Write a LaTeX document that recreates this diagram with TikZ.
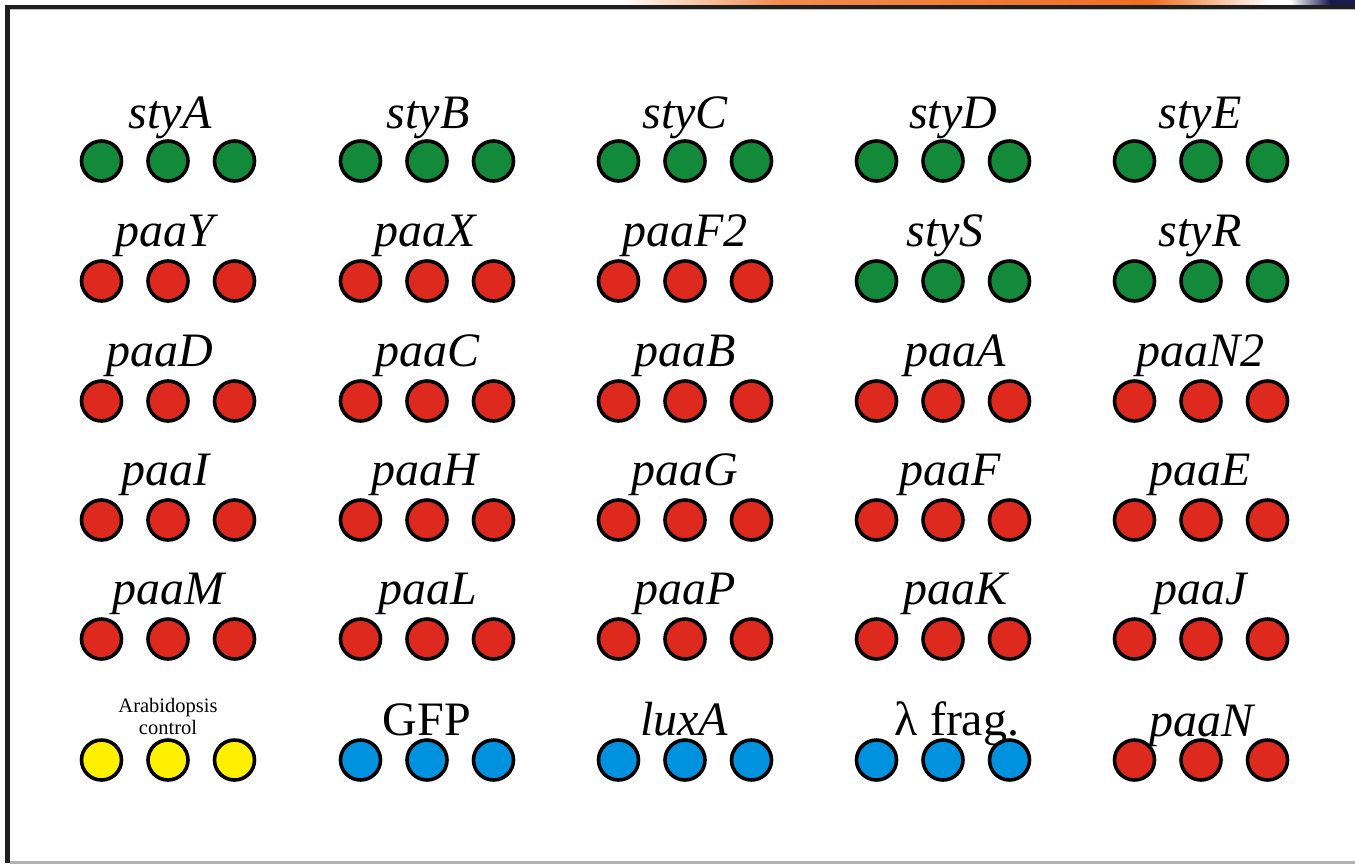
\documentclass[tikz,border=0pt]{standalone}
\usepackage{fontspec}
\setmainfont{Liberation Serif}

\definecolor{spotgreen}{RGB}{18,138,58}
\definecolor{spotred}{RGB}{222,42,30}
\definecolor{spotyellow}{RGB}{255,240,0}
\definecolor{spotblue}{RGB}{0,146,222}
\definecolor{barorange}{RGB}{238,110,32}
\definecolor{barnavy}{RGB}{26,26,80}

\tikzset{
  spot/.style={circle, draw=black, line width=3.6pt, minimum size=40pt, inner sep=0pt},
  genelabel/.style={anchor=base, inner sep=0pt, font=\fontsize{48}{56}\selectfont\itshape},
  plainlabel/.style={anchor=base, inner sep=0pt, font=\fontsize{48}{56}\selectfont\upshape},
  smalllabel/.style={anchor=base, inner sep=0pt, align=center,
                     font=\fontsize{20.5}{22}\selectfont\upshape},
}

% three replicate spots of one gene
% #1 name, #2 x of middle spot, #3 y, #4 fill colour
\newcommand\spottriple[4]{%
  \node[spot, fill=#4] (#1-1) at ({#2-66.5},#3) {};
  \node[spot, fill=#4] (#1-2) at (#2,#3) {};
  \node[spot, fill=#4] (#1-3) at ({#2+66.5},#3) {};
}

\begin{document}
\begin{tikzpicture}[x=1pt, y=-1pt]
\useasboundingbox (0,0) rectangle (1355,865);
\fill[white] (0,0) rectangle (1355,865);

% frame and header strip
\shade[left color=white, right color=barorange!80] (620,0) rectangle (780,4.5);
\shade[left color=barorange!80, right color=barorange] (780,0) rectangle (1150,4.5);
\shade[left color=barorange, right color=white] (1150,0) rectangle (1270,4.5);
\shade[left color=white, right color=barnavy] (1290,0) rectangle (1330,4.5);
\fill[barnavy] (1330,0) rectangle (1355,4.5);
\fill[black!88] (5,4.5) rectangle (1355,8.5);
\fill[black!25] (9.5,8.5) rectangle (1355,10);
\fill[black!88] (5,4.5) rectangle (9.5,863);
\fill[black!30] (9.5,861) rectangle (1355,864);

% row 1
\spottriple{styA}{168}{161}{spotgreen}
\spottriple{styB}{427}{161}{spotgreen}
\spottriple{styC}{685}{161}{spotgreen}
\spottriple{styD}{943}{161}{spotgreen}
\spottriple{styE}{1201}{161}{spotgreen}
\node[genelabel] (styA-lab) at (170,128) {styA};
\node[genelabel] (styB-lab) at (428,128) {styB};
\node[genelabel] (styC-lab) at (685,128) {styC};
\node[genelabel] (styD-lab) at (953,128) {styD};
\node[genelabel] (styE-lab) at (1200,128) {styE};

% row 2
\spottriple{paaY}{168}{281}{spotred}
\spottriple{paaX}{427}{281}{spotred}
\spottriple{paaF2}{685}{281}{spotred}
\spottriple{styS}{943}{281}{spotgreen}
\spottriple{styR}{1201}{281}{spotgreen}
\node[genelabel] (paaY-lab) at (165,246) {paaY};
\node[genelabel] (paaX-lab) at (425,246) {paaX};
\node[genelabel] (paaF2-lab) at (685,246) {paaF2};
\node[genelabel] (styS-lab) at (945,246) {styS};
\node[genelabel] (styR-lab) at (1200,246) {styR};

% row 3
\spottriple{paaD}{168}{401}{spotred}
\spottriple{paaC}{427}{401}{spotred}
\spottriple{paaB}{685}{401}{spotred}
\spottriple{paaA}{943}{401}{spotred}
\spottriple{paaN2}{1201}{401}{spotred}
\node[genelabel] (paaD-lab) at (160,366) {paaD};
\node[genelabel] (paaC-lab) at (428,366) {paaC};
\node[genelabel] (paaB-lab) at (685,366) {paaB};
\node[genelabel] (paaA-lab) at (955,366) {paaA};
\node[genelabel] (paaN2-lab) at (1200,366) {paaN2};

% row 4
\spottriple{paaI}{168}{520}{spotred}
\spottriple{paaH}{427}{520}{spotred}
\spottriple{paaG}{685}{520}{spotred}
\spottriple{paaF}{943}{520}{spotred}
\spottriple{paaE}{1201}{520}{spotred}
\node[genelabel] (paaI-lab) at (165,485) {paaI};
\node[genelabel] (paaH-lab) at (425,485) {paaH};
\node[genelabel] (paaG-lab) at (685,485) {paaG};
\node[genelabel] (paaF-lab) at (950,485) {paaF};
\node[genelabel] (paaE-lab) at (1200,485) {paaE};

% row 5
\spottriple{paaM}{168}{639}{spotred}
\spottriple{paaL}{427}{639}{spotred}
\spottriple{paaP}{685}{639}{spotred}
\spottriple{paaK}{943}{639}{spotred}
\spottriple{paaJ}{1201}{639}{spotred}
\node[genelabel] (paaM-lab) at (168,604) {paaM};
\node[genelabel] (paaL-lab) at (428,604) {paaL};
\node[genelabel] (paaP-lab) at (685,604) {paaP};
\node[genelabel] (paaK-lab) at (955,604) {paaK};
\node[genelabel] (paaJ-lab) at (1200,604) {paaJ};

% row 6: controls
\spottriple{arab}{168}{760}{spotyellow}
\spottriple{gfp}{427}{760}{spotblue}
\spottriple{luxA}{685}{760}{spotblue}
\spottriple{lambda}{943}{760}{spotblue}
\spottriple{paaN}{1201}{760}{spotred}
\node[smalllabel] (arab-lab) at (168,734) {Arabidopsis\\control};
\node[plainlabel] (gfp-lab) at (427,735) {GFP};
\node[genelabel] (luxA-lab) at (684,735) {luxA};
\node[plainlabel] (lambda-lab) at (957,735) {λ frag.};
\node[genelabel] (paaN-lab) at (1201,736) {paaN};
\end{tikzpicture}
\end{document}
